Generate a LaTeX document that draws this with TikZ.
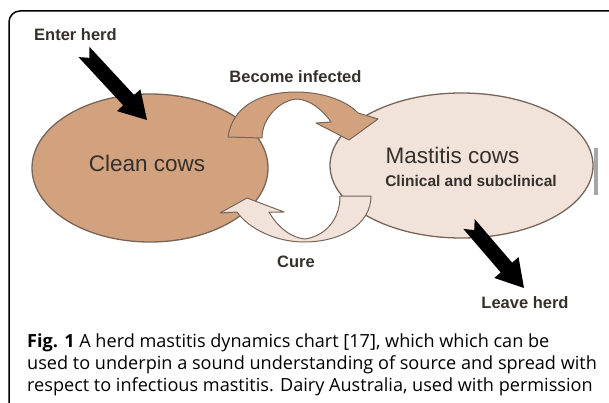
\documentclass[tikz,border=0pt]{standalone}
\usepackage{fontspec}
\setmainfont{Open Sans}
\newfontfamily\dfont{Liberation Sans}
\usetikzlibrary{calc,shapes.geometric}
\definecolor{cleanfill}{HTML}{D2A17E}
\definecolor{mastfill}{HTML}{F2E3DA}
\definecolor{edgec}{HTML}{76665A}
\definecolor{txtc}{HTML}{35302C}
\tikzset{
  cowell/.style={ellipse, draw=edgec, line width=1.3pt, inner sep=0pt},
  biglbl/.style={font=\dfont\fontsize{22.5}{25}\selectfont, text=txtc, inner sep=0pt},
  smalllbl/.style={font=\dfont\bfseries\fontsize{16.5}{18}\selectfont, text=txtc, inner sep=0pt},
  sublbl/.style={font=\dfont\bfseries\fontsize{15.5}{17}\selectfont, text=txtc, inner sep=0pt},
  caplbl/.style={font=\fontsize{18.1}{21}\selectfont, anchor=west, inner sep=0pt},
  flowarrow/.style={draw=edgec, line width=1pt, line join=round},
}
\newcommand\blkarrow[3]{%
  \coordinate (#3) at ($(#2)!27pt!(#1)$);
  \fill[black] ($(#1)!7.5pt!90:(#2)$) -- ($(#1)!8pt!(#2)$) -- ($(#1)!7.5pt!-90:(#2)$)
    -- ($(#3)!7.5pt!-90:(#2)$) -- ($(#3)!16pt!-90:(#2)$) -- (#2)
    -- ($(#3)!16pt!90:(#2)$) -- ($(#3)!7.5pt!90:(#2)$) -- cycle;
}
\begin{document}
\begin{tikzpicture}[x=1pt,y=-1pt]
\useasboundingbox (0,0) rectangle (609,403);
% frame
\draw[line width=1.5pt, rounded corners=11pt] (9,405) -- (9,11) -- (615,11);

% ellipses
\node[cowell, fill=cleanfill, minimum width=236pt, minimum height=148pt] (clean) at (150,168) {};
\node[cowell, fill=mastfill, minimum width=263pt, minimum height=145pt] (mast) at (461.5,165.5) {};
\fill[gray!70] (594,148) rectangle (598,195);

% become infected arrow
\filldraw[fill=cleanfill, flowarrow]
  (228,137) .. controls (232,108) and (258,92) .. (296,92)
  .. controls (325,92) and (348,102) .. (358,113)
  -- (378,119) -- (349,140) -- (316,123) -- (331,122)
  .. controls (322,109) and (310,100) .. (297,99)
  .. controls (280,100) and (262,118) .. (262,138)
  -- cycle;

% cure arrow
\filldraw[fill=mastfill, flowarrow]
  (371,196) .. controls (371,225) and (340,242) .. (304,242)
  .. controls (275,242) and (248,228) .. (237,212)
  -- (220,213) -- (247,198) -- (284,212) -- (269,212)
  .. controls (278,228) and (292,238) .. (305,239)
  .. controls (325,236) and (340,220) .. (340,196)
  -- cycle;

% black arrows
\coordinate (enterTail) at (84,52);
\coordinate (enterTip) at (147,120);
\blkarrow{enterTail}{enterTip}{enterBase}
\coordinate (leaveTail) at (469,224);
\coordinate (leaveTip) at (524,288);
\blkarrow{leaveTail}{leaveTip}{leaveBase}

% labels
\node[biglbl] (cleanlbl) at (147,163) {Clean cows};
\node[biglbl] (mastlbl) at (452.5,155) {Mastitis cows};
\node[sublbl] (cliniclbl) at (471,181) {Clinical and subclinical};
\node[smalllbl] (enterlbl) at (75.5,35) {Enter herd};
\node[smalllbl] (becomelbl) at (295.5,77) {Become infected};
\node[smalllbl] (curelbl) at (296,262) {Cure};
\node[smalllbl] (leavelbl) at (525,303) {Leave herd};

% caption
\node[caplbl] (cap1) at (27,343) {\textbf{Fig. 1} A herd mastitis dynamics chart [17], which which can be};
\node[caplbl] (cap2) at (27,365) {used to underpin a sound understanding of source and spread with};
\node[caplbl] (cap3) at (27,387) {respect to infectious mastitis. Dairy Australia, used with permission};
\end{tikzpicture}
\end{document}
